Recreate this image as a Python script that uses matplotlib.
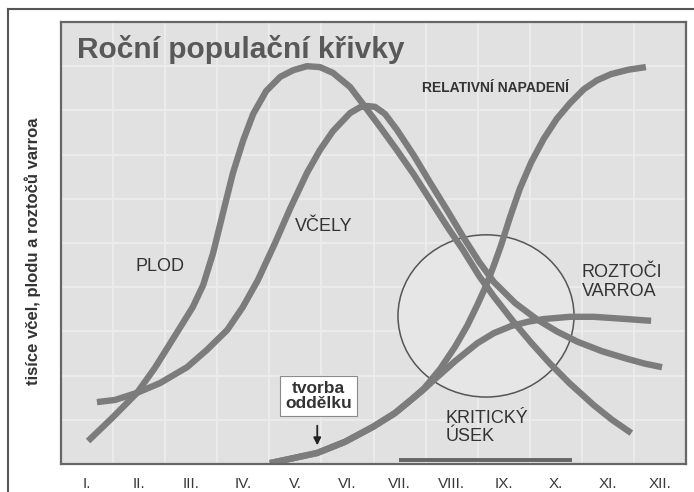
"""Roční populační křivky - včely, plod a roztoči varroa."""

import matplotlib

matplotlib.use("Agg")

import matplotlib.pyplot as plt
from matplotlib.lines import Line2D
from matplotlib.patches import Ellipse

# month axis: month i is centred at i - 0.5, values in grid units (0..10)
MONTHS = ["I.", "II.", "III.", "IV.", "V.", "VI.", "VII.", "VIII.", "IX.", "X.", "XI.", "XII."]

PLOD_X = [0.52, 0.98, 1.46, 1.80, 2.15, 2.53, 2.73, 2.92, 3.11, 3.30, 3.50, 3.69,
          3.94, 4.21, 4.46, 4.72, 4.97, 5.22, 5.55, 5.80, 6.13, 6.45, 6.78, 7.09,
          7.41, 7.72, 8.03, 8.31, 8.68, 9.03, 9.39, 9.77, 10.23, 10.58, 10.95]
PLOD_Y = [0.52, 1.04, 1.61, 2.17, 2.83, 3.55, 4.05, 4.77, 5.68, 6.58, 7.33, 7.92,
          8.44, 8.76, 8.91, 9.00, 8.98, 8.85, 8.53, 8.14, 7.62, 7.10, 6.54, 5.97,
          5.38, 4.84, 4.25, 3.79, 3.23, 2.74, 2.27, 1.82, 1.33, 1.00, 0.70]

VCELY_X = [0.69, 1.04, 1.46, 1.90, 2.42, 2.80, 3.19, 3.49, 3.78, 4.11, 4.40, 4.72,
           4.97, 5.22, 5.55, 5.74, 5.88, 6.03, 6.22, 6.45, 6.78, 7.09, 7.41, 7.72,
           8.03, 8.31, 8.72, 9.14, 9.52, 9.91, 10.39, 10.87, 11.21, 11.54]
VCELY_Y = [1.40, 1.45, 1.61, 1.83, 2.19, 2.58, 3.03, 3.55, 4.16, 5.00, 5.78, 6.58,
           7.10, 7.53, 7.94, 8.07, 8.10, 8.08, 7.92, 7.56, 6.97, 6.36, 5.75, 5.14,
           4.57, 4.12, 3.64, 3.27, 3.00, 2.77, 2.55, 2.38, 2.27, 2.19]

ROZTOCI_X = [4.01, 4.49, 4.92, 5.45, 5.99, 6.41, 6.72, 6.93, 7.16, 7.57, 7.99, 8.31,
             8.64, 8.97, 9.27, 9.77, 10.23, 10.73, 11.33]
ROZTOCI_Y = [0.02, 0.14, 0.25, 0.50, 0.84, 1.15, 1.45, 1.65, 1.90, 2.33, 2.73, 2.96,
             3.12, 3.22, 3.28, 3.33, 3.33, 3.29, 3.24]

NAPADENI_X = [4.01, 4.49, 4.92, 5.45, 5.99, 6.41, 6.72, 6.97, 7.28, 7.57, 7.80, 7.99,
              8.16, 8.31, 8.45, 8.62, 8.81, 9.03, 9.27, 9.52, 9.77, 10.04, 10.29,
              10.56, 10.89, 11.23]
NAPADENI_Y = [0.02, 0.14, 0.25, 0.50, 0.84, 1.15, 1.45, 1.71, 2.15, 2.66, 3.13, 3.59,
              4.03, 4.49, 4.95, 5.58, 6.23, 6.83, 7.36, 7.81, 8.16, 8.48, 8.68, 8.82,
              8.92, 8.98]

KRITICKY_USEK = (6.48, 9.81)          # critical period bar, months
KRUH_STRED = (8.16, 3.35)             # circle around the critical crossing
KRUH_ROZMER = (3.38, 3.67)
ODDELEK_X = 4.92                      # split formation arrow
ODDELEK_Y = (0.93, 0.36)

W, H = 694, 492
BG = "#e1e1e1"
GRID = "#ececec"
CURVE = "#7c7c7c"
TEXT = "#333333"

fig = plt.figure(figsize=(W / 100, H / 100), dpi=100)
fig.patch.set_facecolor("white")
ax = fig.add_axes([61 / W, 28 / H, 625 / W, 442 / H])
ax.set_facecolor(BG)
ax.set_xlim(0, 12)
ax.set_ylim(0, 10)

for xv in range(1, 12):
    ax.axvline(xv, color=GRID, lw=1.4, zorder=0)
for yv in range(1, 10):
    ax.axhline(yv, color=GRID, lw=1.4, zorder=0)

ax.add_patch(Ellipse(KRUH_STRED, *KRUH_ROZMER, facecolor="#e6e6e6",
                     edgecolor="#555555", lw=1.1, zorder=1))

for xs, ys in [(PLOD_X, PLOD_Y), (VCELY_X, VCELY_Y),
               (ROZTOCI_X, ROZTOCI_Y), (NAPADENI_X, NAPADENI_Y)]:
    ax.plot(xs, ys, color=CURVE, lw=4.6, solid_capstyle="butt",
            solid_joinstyle="round", zorder=2)

ax.plot(KRITICKY_USEK, [0.09, 0.09], color="#666666", lw=2.8,
        solid_capstyle="butt", zorder=3)

ax.set_xticks([i + 0.5 for i in range(12)])
ax.set_xticklabels(MONTHS, family=["Liberation Sans Narrow", "Liberation Sans"],
                   fontsize=11, color="#3a3a3a")
ax.set_yticks([])
ax.tick_params(axis="x", length=0, pad=9)
for spine in ax.spines.values():
    spine.set_color("#666666")
    spine.set_linewidth(1.6)

sans = ["Liberation Sans", "DejaVu Sans"]
ax.text(0.31, 9.37, "Roční populační křivky", family=sans, fontsize=21.5,
        fontweight="bold", color="#595959", ha="left", va="center", zorder=4)
ax.text(8.35, 8.51, "RELATIVNÍ NAPADENÍ", family=sans, fontsize=10,
        fontweight="bold", color=TEXT, ha="center", va="center", zorder=4)
ax.text(1.90, 4.46, "PLOD", family=sans, fontsize=13, color=TEXT,
        ha="center", va="center", zorder=4)
ax.text(5.05, 5.38, "VČELY", family=sans, fontsize=13, color=TEXT,
        ha="center", va="center", zorder=4)
ax.text(10.0, 4.12, "ROZTOČI\nVARROA", family=sans, fontsize=13, color=TEXT,
        ha="left", va="center", linespacing=1.1, zorder=4)
ax.text(7.39, 0.83, "KRITICKÝ\nÚSEK", family=sans, fontsize=13, color=TEXT,
        ha="left", va="center", linespacing=1.1, zorder=4)
ax.text(4.95, 1.54, "tvorba\noddělku", family=sans, fontsize=12.5,
        fontweight="bold", color=TEXT, ha="center", va="center",
        linespacing=1.0, zorder=5,
        bbox=dict(boxstyle="square,pad=0.3", fc="white", ec="#8a8a8a", lw=0.8))
ax.annotate("", xy=(ODDELEK_X, ODDELEK_Y[1]), xytext=(ODDELEK_X, ODDELEK_Y[0]),
            arrowprops=dict(arrowstyle="-|>", color="#222222", lw=1.3,
                            mutation_scale=11), zorder=5)

fig.text(33 / W, 1 - 251 / H, "tisíce včel, plodu a roztočů varroa",
         family=sans, fontsize=12, fontweight="bold", color=TEXT,
         rotation=90, ha="center", va="center")

# picture frame on the top and left
fig.add_artist(Line2D([8 / W, 1.0], [1 - 9 / H, 1 - 9 / H], color="#555555", lw=1.5))
fig.add_artist(Line2D([8 / W, 8 / W], [0.0, 1 - 9 / H], color="#555555", lw=1.5))

fig.savefig("out.png", dpi=100)
